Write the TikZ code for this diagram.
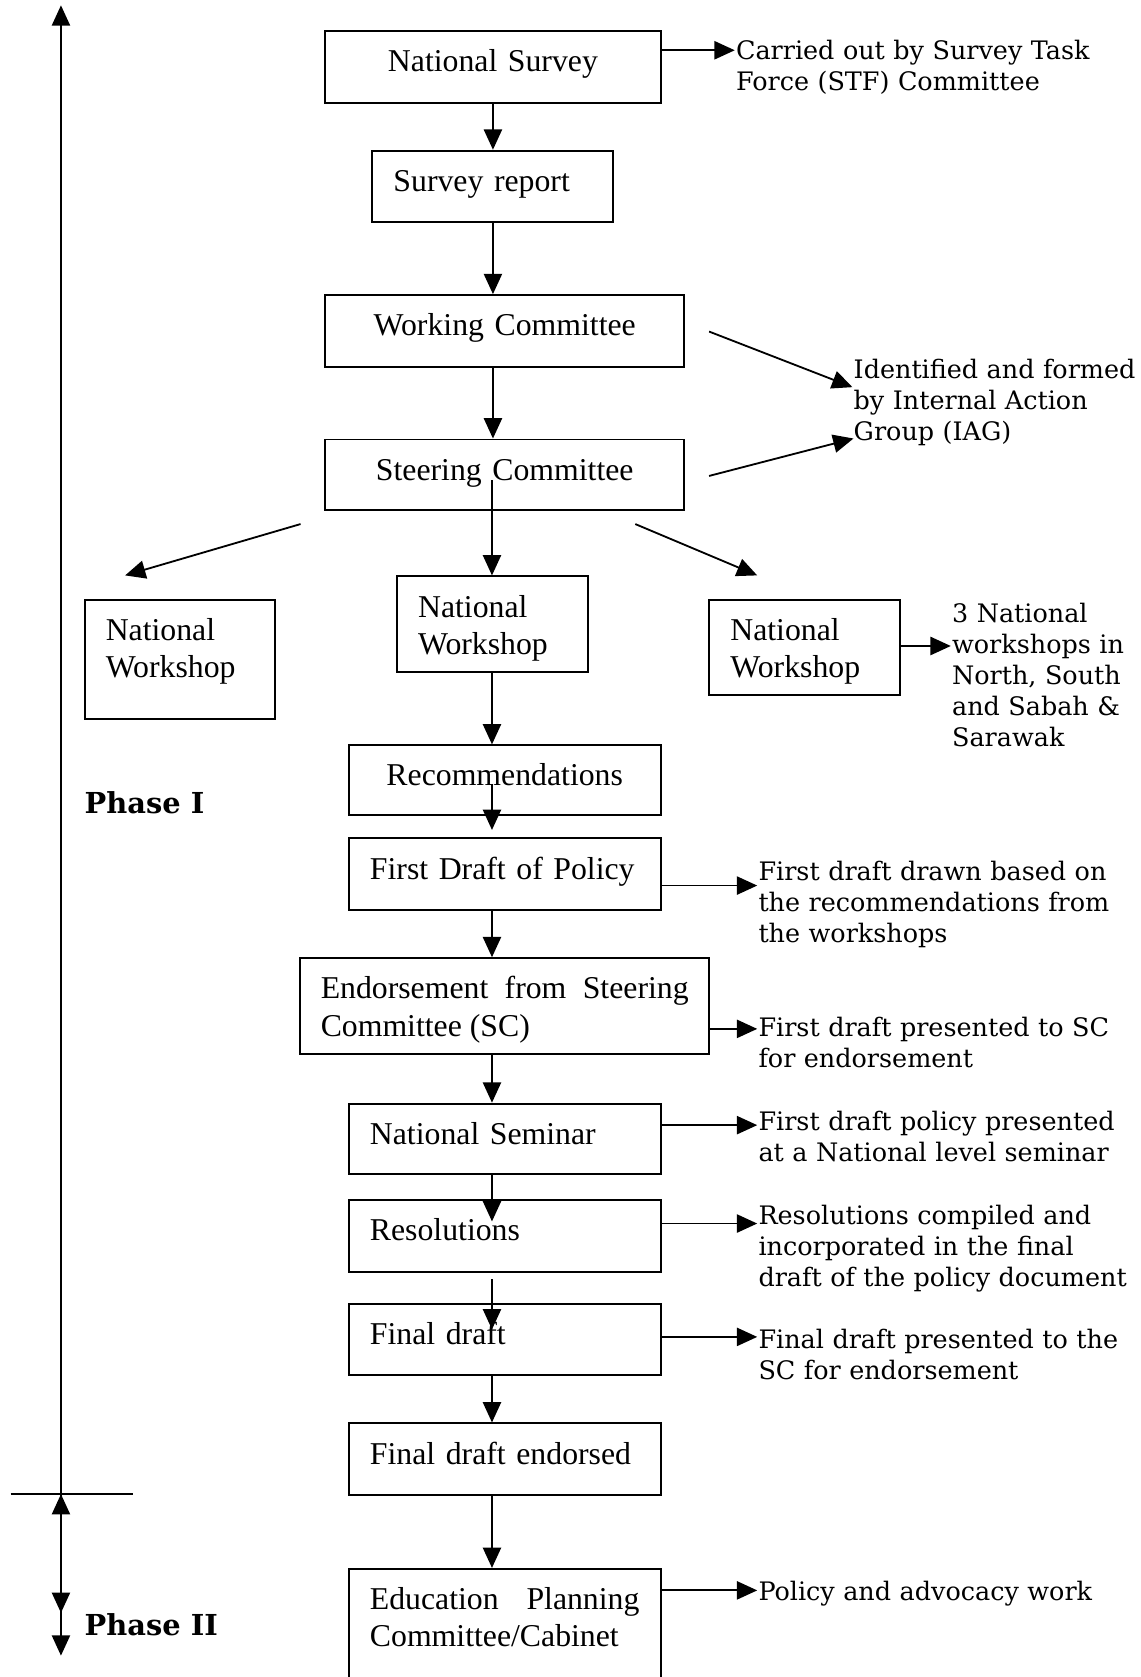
\documentclass[tikz,border=0pt]{standalone}
\usepackage{fontspec}
\setmainfont{Liberation Serif}
\newfontfamily\notefamily{DejaVu Serif}
\usetikzlibrary{arrows.meta}

\begin{document}
\begin{tikzpicture}[x=1pt,y=-1pt,
  box/.style={draw, line width=1.8pt, anchor=north west, inner xsep=20pt, inner ysep=0pt,
    font=\fontsize{29.7}{35}\selectfont, text height=38pt, text depth=29pt, align=left},
  arr/.style={line width=1.7pt, -{Triangle[length=19pt,width=17pt]}},
  note/.style={anchor=base west, inner sep=0pt, align=left, text width=440pt,
    font=\notefamily\fontsize{23.8}{29}\selectfont},
  phase/.style={anchor=base west, inner sep=0pt, font=\notefamily\bfseries\fontsize{27}{30}\selectfont}
]
\useasboundingbox (0,0) rectangle (1066,1568);

% process boxes
\node[box, text width=274pt, align=center] (ns) at (303,28) {National Survey};
\node[box, text width=185pt] (sr) at (347,140) {Survey report};
\node[box, text width=296pt, align=center] (wc) at (303,275) {Working Committee};
\node[box, text width=296pt, align=center, text depth=28pt] (scm) at (303,410) {Steering Committee};
\node[box, text width=139pt, inner xsep=19pt, text depth=73pt] (nwl) at (79,560) {National\\Workshop};
\node[box, text width=139pt, text depth=51pt] (nwc) at (370,538) {National\\Workshop};
\node[box, text width=139pt, text depth=51pt] (nwr) at (662,560) {National\\Workshop};
\node[box, text width=252pt, align=center, text depth=27pt] (rec) at (325,696) {Recommendations};
\node[box, text width=252pt] (fdp) at (325,783) {First Draft of Policy};
\node[box, text width=344pt, inner xsep=19pt, align=justify, text depth=52pt] (endo) at (280,895) {Endorsement from Steering Committee (SC)};
\node[box, text width=252pt, text depth=28pt] (sem) at (325,1031) {National Seminar};
\node[box, text width=252pt] (res) at (325,1121) {Resolutions};
\node[box, text width=252pt] (fdr) at (325,1218) {Final draft};
\node[box, text width=252pt] (fde) at (325,1330) {Final draft endorsed};
\node[box, text width=252pt, align=justify, text depth=80pt] (edu) at (325,1466) {Education Planning Committee/Cabinet};

% main flow
\coordinate (scin) at (460,449);
\draw[arr] (ns.south) -- (ns.south |- sr.north);
\draw[arr] (ns.south |- sr.south) -- (ns.south |- wc.north);
\draw[arr] (ns.south |- wc.south) -- (ns.south |- scm.north);
\draw[arr] (scin) -- (scin |- nwc.north);
\draw[arr] (scin |- nwc.south) -- (scin |- rec.north);
\coordinate (recin) at (460,733);
\coordinate (fdtip) at (460,776);
\draw[arr] (recin) -- (fdtip);
\draw[arr] (scin |- fdp.south) -- (scin |- endo.north);
\draw[arr] (scin |- endo.south) -- (scin |- sem.north);
\coordinate (restip) at (460,1142);
\draw[arr] (scin |- sem.south) -- (restip);
\coordinate (fdrfrom) at (460,1196);
\coordinate (fdrtip) at (460,1243);
\draw[arr] (fdrfrom) -- (fdrtip);
\draw[arr] (scin |- fdr.south) -- (scin |- fde.north);
\draw[arr] (scin |- fde.south) -- (scin |- edu.north);

% branching arrows
\coordinate (wcout) at (663,310);
\coordinate (iagtip1) at (797,362);
\coordinate (scout) at (663,445);
\coordinate (iagtip2) at (798,410);
\coordinate (scl) at (281,490);
\coordinate (nwltip) at (117,538);
\coordinate (scr) at (594,490);
\coordinate (nwrtip) at (708,538);
\draw[arr] (wcout) -- (iagtip1);
\draw[arr] (scout) -- (iagtip2);
\draw[arr] (scl) -- (nwltip);
\draw[arr] (scr) -- (nwrtip);

% side notes
\coordinate (c1) at (687,47);
\coordinate (c2) at (889,604);
\coordinate (c3) at (708,828);
\coordinate (c4) at (708,962);
\coordinate (c5) at (708,1052);
\coordinate (c6) at (708,1144);
\coordinate (c7) at (708,1250);
\coordinate (c8) at (708,1487);
\draw[arr] (ns.east |- c1) -- (c1);
\draw[arr] (nwr.east |- c2) -- (c2);
\draw[arr] (fdp.east |- c3) -- (c3);
\draw[arr] (endo.east |- c4) -- (c4);
\draw[arr] (sem.east |- c5) -- (c5);
\draw[arr] (res.east |- c6) -- (c6);
\draw[arr] (fdr.east |- c7) -- (c7);
\draw[arr] (edu.east |- c8) -- (c8);

\node[note] (n1) at (688,56) {Carried out by Survey Task\\Force (STF) Committee};
\node[note] (n2) at (798,354) {Identified and formed\\by Internal Action\\Group (IAG)};
\node[note] (n3) at (890,582) {3 National\\workshops in\\North, South\\and Sabah \&\\Sarawak};
\node[note] (n4) at (709,823) {First draft drawn based on\\the recommendations from\\the workshops};
\node[note] (n5) at (709,969) {First draft presented to SC\\for endorsement};
\node[note] (n6) at (709,1057) {First draft policy presented\\at a National level seminar};
\node[note] (n7) at (709,1145) {Resolutions compiled and\\incorporated in the final\\draft of the policy document};
\node[note] (n8) at (709,1261) {Final draft presented to the\\SC for endorsement};
\node[note] (n9) at (709,1496) {Policy and advocacy work};

% phase axis
\coordinate (split) at (57,1397);
\coordinate (axtop) at (57,5);
\coordinate (splitL) at (10,1397);
\coordinate (splitR) at (124,1397);
\coordinate (ph2mid) at (57,1508);
\coordinate (ph2bot) at (57,1548);
\draw[arr] (split) -- (axtop);
\draw[line width=1.2pt] (splitL) -- (splitR);
\draw[arr] (ph2mid) -- (split);
\draw[arr] (split) -- (ph2mid);
\draw[arr] (ph2mid) -- (ph2bot);
\node[phase] (p1) at (79,761) {Phase I};
\node[phase] (p2) at (79,1529) {Phase II};
\end{tikzpicture}
\end{document}
